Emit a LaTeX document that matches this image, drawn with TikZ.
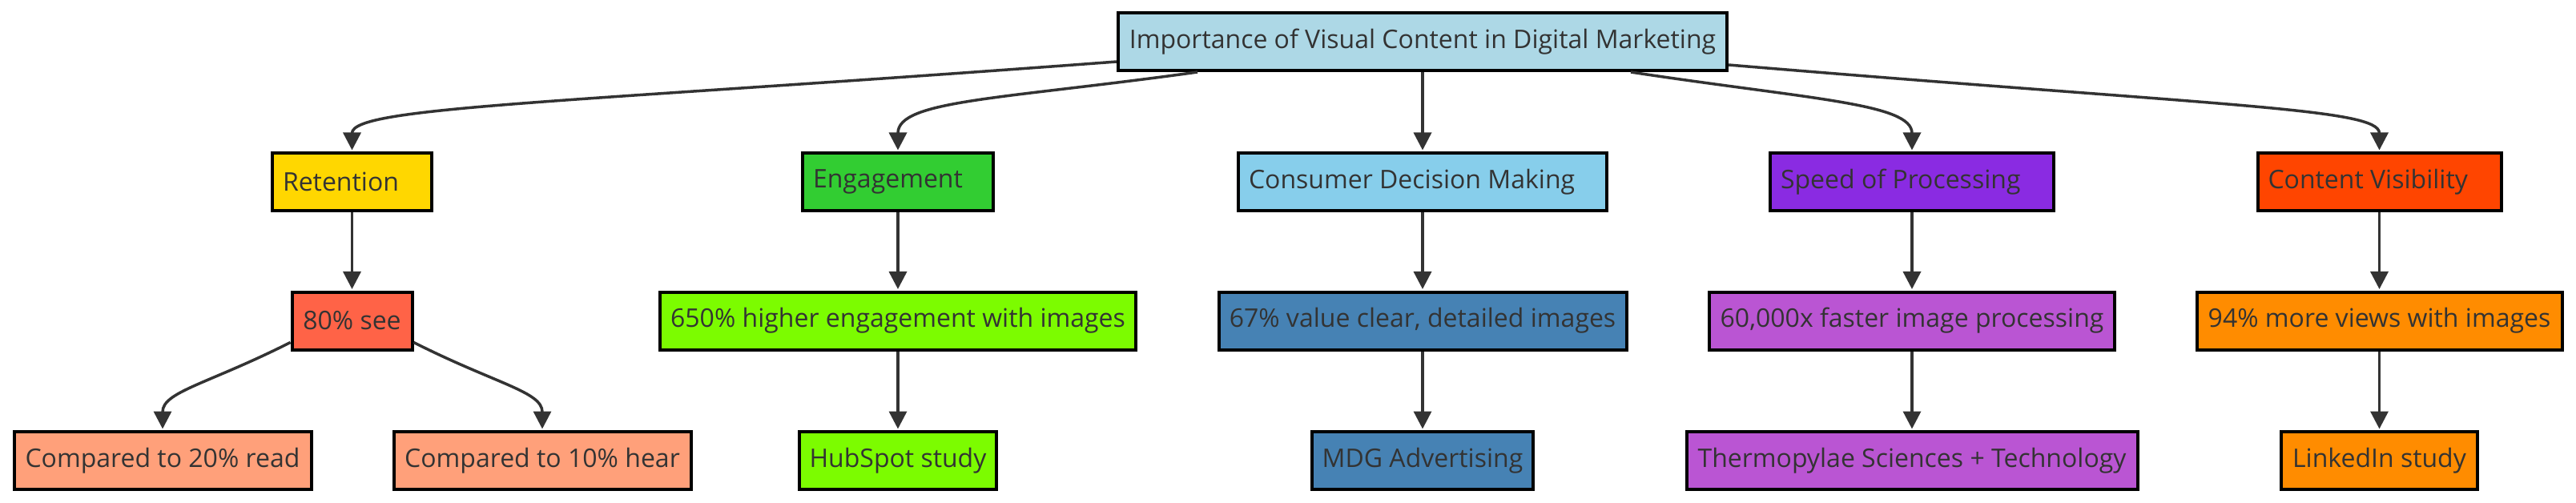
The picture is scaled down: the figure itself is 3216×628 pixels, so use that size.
\documentclass[tikz,border=0pt]{standalone}
\usepackage{fontspec}
\setmainfont{Open Sans}
\usetikzlibrary{arrows.meta}
\definecolor{txt}{HTML}{333333}
\definecolor{cRoot}{HTML}{ADD8E6}
\definecolor{cGold}{HTML}{FFD700}
\definecolor{cTomato}{HTML}{FF6347}
\definecolor{cSalmon}{HTML}{FFA07A}
\definecolor{cLime}{HTML}{32CD32}
\definecolor{cLawn}{HTML}{7CFC00}
\definecolor{cSky}{HTML}{87CEEB}
\definecolor{cSteel}{HTML}{4682B4}
\definecolor{cViolet}{HTML}{8A2BE2}
\definecolor{cOrchid}{HTML}{BA55D3}
\definecolor{cOrRed}{HTML}{FF4500}
\definecolor{cDkOrange}{HTML}{FF8C00}
\begin{document}
\begin{tikzpicture}[x=1pt,y=-1pt,
  box/.style={draw=black, line width=4pt, text=txt,
    font=\fontsize{32}{38}\selectfont, minimum height=72pt,
    inner ysep=0pt, inner xsep=0pt, anchor=center},
  cat/.style={box, inner xsep=13pt, text width=#1, align=flush left},
  edge/.style={draw=txt, line width=3.5pt, shorten >=1.5pt,
    -{Triangle[length=22pt,width=22pt]}}]
\useasboundingbox (0,0) rectangle (3216,628);

% root
\node[box, fill=cRoot, minimum width=760pt] (root) at (1776,52)
  {Importance of Visual Content in Digital Marketing};

% categories
\node[cat=173pt, fill=cGold] (ret) at (439.5,227) {Retention};
\node[cat=212pt, fill=cLime] (eng) at (1121,227) {Engagement};
\node[cat=434pt, fill=cSky] (cdm) at (1776,227) {Consumer Decision Making};
\node[cat=328pt, fill=cViolet] (spd) at (2387,227) {Speed of Processing};
\node[cat=278pt, fill=cOrRed] (cv) at (2970.5,227) {Content Visibility};

% third row
\node[box, fill=cTomato, minimum width=150pt] (see) at (439.5,400.5) {80\% see};
\node[box, fill=cLawn, minimum width=594pt] (r650) at (1121,400.5) {650\% higher engagement with images};
\node[box, fill=cSteel, minimum width=509pt] (r67) at (1776,400.5) {67\% value clear, detailed images};
\node[box, fill=cOrchid, minimum width=506pt] (r60k) at (2387,400.5) {60,000x faster image processing};
\node[box, fill=cDkOrange, minimum width=456pt] (r94) at (2970.5,400.5) {94\% more views with images};

% fourth row
\node[box, fill=cSalmon, minimum width=371pt] (c20) at (203,575) {Compared to 20\% read};
\node[box, fill=cSalmon, minimum width=371pt] (c10) at (677,575) {Compared to 10\% hear};
\node[box, fill=cLawn, minimum width=246pt] (hub) at (1121,575) {HubSpot study};
\node[box, fill=cSteel, minimum width=276pt] (mdg) at (1776,575) {MDG Advertising};
\node[box, fill=cOrchid, minimum width=563pt] (thermo) at (2387,575) {Thermopylae Sciences + Technology};
\node[box, fill=cDkOrange, minimum width=245pt] (li) at (2970.5,575) {LinkedIn study};

% edges from root
\draw[edge] ([yshift=-25pt]root.west) .. controls +(-694,52) and +(0,-56) .. (ret.north);
\draw[edge] ([xshift=-281pt]root.south) .. controls +(-245,34) and +(0,-64) .. (eng.north);
\draw[edge] (root.south) -- (cdm.north);
\draw[edge] ([xshift=260pt]root.south) .. controls +(224,34) and +(0,-60) .. (spd.north);
\draw[edge] ([yshift=-29pt]root.east) .. controls +(622,52) and +(0,-54) .. (cv.north);

% vertical chains
\draw[edge] (ret.south) -- (see.north);
\draw[edge] (eng.south) -- (r650.north);
\draw[edge] (r650.south) -- (hub.north);
\draw[edge] (cdm.south) -- (r67.north);
\draw[edge] (r67.south) -- (mdg.north);
\draw[edge] (spd.south) -- (r60k.north);
\draw[edge] (r60k.south) -- (thermo.north);
\draw[edge] (cv.south) -- (r94.north);
\draw[edge] (r94.south) -- (li.north);

% 80% see branches
\draw[edge] ([yshift=-27pt]see.west) .. controls +(-103,52) and +(0,-48) .. (c20.north);
\draw[edge] ([yshift=-27pt]see.east) .. controls +(103,52) and +(0,-48) .. (c10.north);
\end{tikzpicture}
\end{document}
